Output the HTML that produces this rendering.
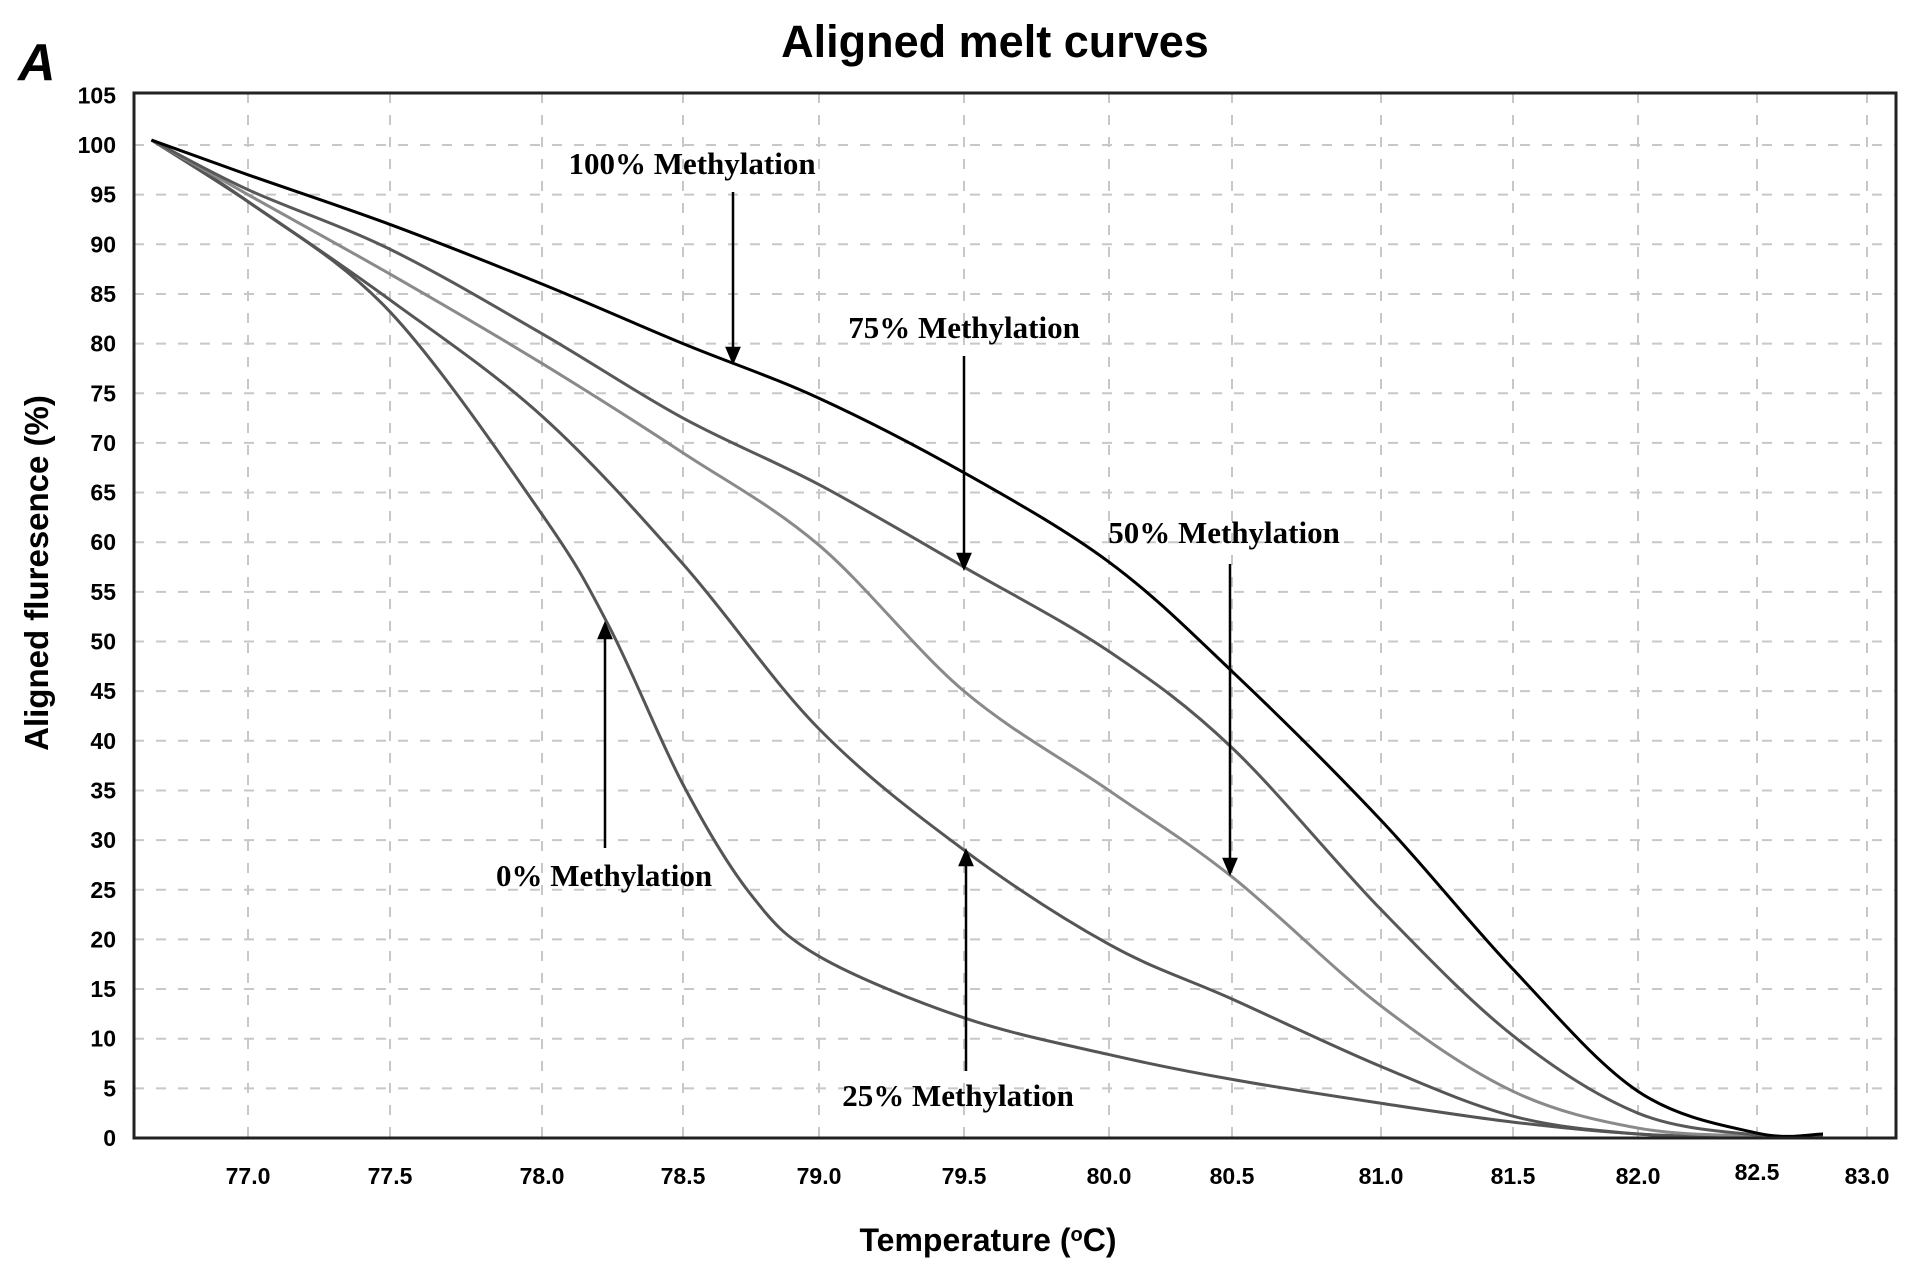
<!DOCTYPE html>
<html><head><meta charset="utf-8"><style>
body{margin:0;background:#fff}
svg{display:block}
.sans{font-family:"Liberation Sans",Arial,sans-serif}
.serif{font-family:"Liberation Serif","Times New Roman",serif;font-weight:bold;font-size:31px}
</style></head><body>
<svg id="chart" width="1913" height="1271" viewBox="0 0 1913 1271" xmlns="http://www.w3.org/2000/svg">
<text class="sans" x="18" y="80" font-size="52" font-weight="bold" font-style="italic">A</text>
<text class="sans" x="995" y="57" font-size="45" font-weight="bold" text-anchor="middle">Aligned melt curves</text>
<text class="sans" transform="translate(48,573) rotate(-90)" font-size="33" font-weight="bold" text-anchor="middle">Aligned fluresence (%)</text>
<text class="sans" x="988" y="1251" font-size="32" font-weight="bold" text-anchor="middle">Temperature (<tspan font-size="20" dy="-10">o</tspan><tspan dy="10">C)</tspan></text>
<g id="grid"></g><g id="ticks" class="sans"></g><g id="curves"></g>
<rect x="134" y="93" width="1762" height="1045" fill="none" stroke="#222" stroke-width="3"/>
<g id="notes">
<text class="serif" x="692" y="174" text-anchor="middle">100% Methylation</text>
<text class="serif" x="964" y="338" text-anchor="middle">75% Methylation</text>
<text class="serif" x="1224" y="543" text-anchor="middle">50% Methylation</text>
<text class="serif" x="604" y="886" text-anchor="middle">0% Methylation</text>
<text class="serif" x="958" y="1106" text-anchor="middle">25% Methylation</text>
</g>
<g id="arrows" stroke="#000" stroke-width="2.5" fill="#000">
<g><line x1="733" y1="192" x2="733" y2="350"/><polygon points="727,348 739,348 733,362"/></g>
<g><line x1="964" y1="356" x2="964" y2="556"/><polygon points="958,554 970,554 964,568"/></g>
<g><line x1="1230" y1="564" x2="1230" y2="861"/><polygon points="1224,859 1236,859 1230,873"/></g>
<g><line x1="605" y1="848" x2="605" y2="636"/><polygon points="599,638 611,638 605,624"/></g>
<g><line x1="966" y1="1071" x2="966" y2="863"/><polygon points="960,865 972,865 966,851"/></g>
</g>
</svg>
<script>
const xTicks=[77.0,77.5,78.0,78.5,79.0,79.5,80.0,80.5,81.0,81.5,82.0,82.5,83.0];
const yTicks=[0,5,10,15,20,25,30,35,40,45,50,55,60,65,70,75,80,85,90,95,100,105];
const temps=[76.66,77.0,77.5,78.0,78.5,79.0,79.5,80.0,80.5,81.0,81.5,82.0,82.5,82.8];
const m100=[100.5,97,92,86,80,74.5,67,58,47,32,17,4.7,0.5,0.4];
const m75=[100.5,95.5,89.5,81,72.5,65.8,57.5,49,39.3,23,10.3,2.5,0.3,0.3];
const m50=[100.5,95,87,78,69,59.7,45,35,26.3,13.3,4.7,1,0.2,0.2];
const m25=[100.5,94.3,84.4,72.7,57.8,41.2,29,19.5,14,7.2,2.2,0.4,0.1,0.1];
const m0t=[76.66,77.0,77.5,78.0,78.24,78.5,78.75,79.0,79.5,80.0,80.5,81.0,81.5,82.0,82.5,82.8];
const m0=[100.5,94.3,83.2,62.8,51.4,35.6,24.5,18.3,12.1,8.4,5.9,3.5,1.6,0.4,0.1,0.1];
const xPix=[248,390,542,683,819,964,1109,1232,1381,1513,1638,1757,1867];
function X(t){
  if(t<=xTicks[0]) return xPix[0]+(t-xTicks[0])*(xPix[1]-xPix[0])/0.5;
  for(let i=0;i<xTicks.length-1;i++){if(t<=xTicks[i+1]){return xPix[i]+(t-xTicks[i])/(xTicks[i+1]-xTicks[i])*(xPix[i+1]-xPix[i]);}}
  return xPix[xPix.length-1];
}
function Y(v){return 1138-v*(1138-145)/100;}
const NS="http://www.w3.org/2000/svg";
const grid=document.getElementById('grid'),ticks=document.getElementById('ticks'),curves=document.getElementById('curves');
xTicks.forEach(t=>{
  const l=document.createElementNS(NS,'line');
  
  
  l.setAttribute('x1',X(t));l.setAttribute('x2',X(t));l.setAttribute('y1',93);l.setAttribute('y2',1138);
  l.setAttribute('stroke','#c8c8c8');l.setAttribute('stroke-width','2');l.setAttribute('stroke-dasharray','10,12');
  grid.appendChild(l);
  const tx=document.createElementNS(NS,'text');
  
  
  tx.setAttribute('x',X(t));tx.setAttribute('y',t===82.5?1180:1184);tx.setAttribute('text-anchor','middle');
  tx.setAttribute('font-size','23');tx.setAttribute('font-weight','bold');tx.textContent=t.toFixed(1);
  ticks.appendChild(tx);
});
yTicks.forEach(v=>{
  if(v>0&&v<105){
  const l=document.createElementNS(NS,'line');
  
  
  l.setAttribute('x1',134);l.setAttribute('x2',1896);l.setAttribute('y1',Y(v));l.setAttribute('y2',Y(v));
  l.setAttribute('stroke','#c8c8c8');l.setAttribute('stroke-width','2');l.setAttribute('stroke-dasharray','10,12');
  grid.appendChild(l);}
  const tx=document.createElementNS(NS,'text');
  
  
  tx.setAttribute('x',116);tx.setAttribute('y',Y(v)+8);tx.setAttribute('text-anchor','end');
  tx.setAttribute('font-size','23');tx.setAttribute('font-weight','bold');tx.textContent=v;
  ticks.appendChild(tx);
});
function path(ts,vs){
  const p=ts.map((t,i)=>[X(t),Y(vs[i])]);
  let d='M'+p[0][0]+','+p[0][1];
  for(let i=0;i<p.length-1;i++){
    const p0=p[Math.max(0,i-1)],p1=p[i],p2=p[i+1],p3=p[Math.min(p.length-1,i+2)];
    const c1=[p1[0]+(p2[0]-p0[0])/6,p1[1]+(p2[1]-p0[1])/6];
    const c2=[p2[0]-(p3[0]-p1[0])/6,p2[1]-(p3[1]-p1[1])/6];
    d+=' C'+c1+' '+c2+' '+p2;
  }
  return d;
}
const series=[['curve-0',m0t,m0,'#555'],['curve-25',temps,m25,'#555'],['curve-50',temps,m50,'#8a8a8a'],['curve-75',temps,m75,'#585858'],['curve-100',temps,m100,'#000']];
series.forEach(s=>{
  const p=document.createElementNS(NS,'path');
  
  
  p.setAttribute('d',path(s[1],s[2]));p.setAttribute('fill','none');p.setAttribute('stroke',s[3]);p.setAttribute('stroke-width','3');
  curves.appendChild(p);
});
</script>
</body></html>
